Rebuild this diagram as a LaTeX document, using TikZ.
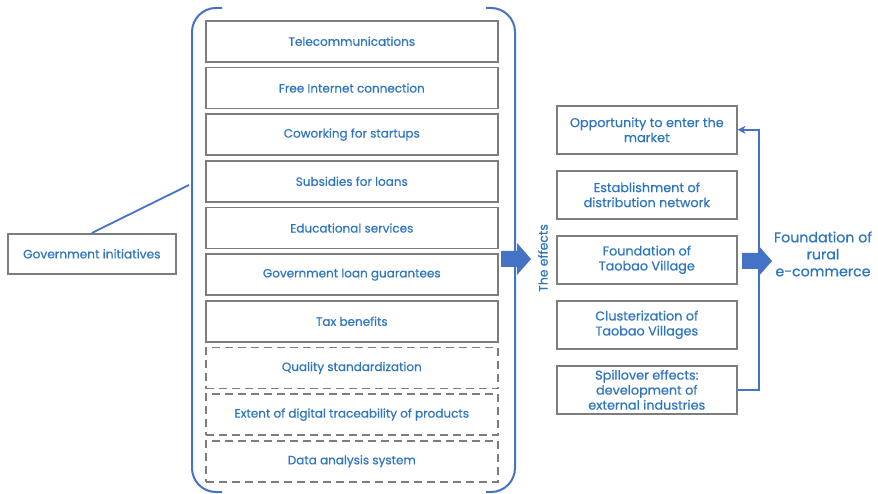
\documentclass[tikz,border=0pt]{standalone}
\usepackage{fontspec}
\setmainfont{Poppins}[FakeBold=0.6]
\usetikzlibrary{arrows.meta}
\definecolor{txtblue}{RGB}{46,117,192}
\definecolor{lineblue}{RGB}{68,114,196}
\definecolor{boxgray}{RGB}{125,125,125}
\begin{document}
\begin{tikzpicture}[x=1pt,y=-1pt,
  item/.style={draw=boxgray, line width=1.6pt, minimum width=292pt, minimum height=41pt,
    anchor=north west, inner sep=0pt, text=txtblue, font=\fontsize{12}{14}\selectfont},
  optitem/.style={item, dashed, dash pattern=on 8pt off 5pt},
  effect/.style={draw=boxgray, line width=1.6pt, minimum width=180pt, minimum height=48pt,
    anchor=north west, inner sep=0pt, text=txtblue, align=center,
    font=\fontsize{12.8}{15}\selectfont},
  bluebar/.style={draw=lineblue, line width=2pt},
  link/.style={draw=lineblue, line width=1.8pt},
  blockarrow/.style={fill=lineblue}]
\useasboundingbox (0,0) rectangle (878,494);

% enclosing brackets around the initiatives
\draw[bluebar, rounded corners=24pt] (222,8) -- (192,8) -- (192,492) -- (222,492);
\draw[bluebar, rounded corners=24pt] (486,8) -- (515,8) -- (515,492) -- (486,492);

% list of initiatives
\node[item] (i1) at (205,20.0) {Telecommunications};
\node[item] (i2) at (205,66.7) {Free Internet connection};
\node[item] (i3) at (205,113.3) {Coworking for startups};
\node[item] (i4) at (205,160.0) {Subsidies for loans};
\node[item] (i5) at (205,206.7) {Educational services};
\node[item] (i6) at (205,253.3) {Government loan guarantees};
\node[item] (i7) at (205,300.0) {Tax benefits};
\node[optitem] (i8) at (205,346.7) {Quality standardization};
\node[optitem] (i9) at (205,393.3) {Extent of digital traceability of products};
\node[optitem] (i10) at (205,440.0) {Data analysis system};

% government initiatives label box
\node[draw=boxgray, line width=1.6pt, minimum width=168pt, minimum height=40pt,
  anchor=north west, inner sep=0pt, text=txtblue, font=\fontsize{12.2}{14}\selectfont]
  (gov) at (7,233) {Government initiatives};
\coordinate (brk) at (189,185);
\draw[link] (gov.north) -- (brk);

% block arrow into the effects
\fill[blockarrow] (501,251) -- (517,251) -- (517,243) -- (531,259) -- (517,275) -- (517,267) -- (501,267) -- cycle;

\node[rotate=90, text=txtblue, font=\fontsize{12.4}{14}\selectfont] (eff) at (543,258) {The effects};

% effects
\node[effect] (e1) at (556,105) {Opportunity to enter the\\market};
\node[effect] (e2) at (556,170) {Establishment of\\distribution network};
\node[effect] (e3) at (556,235) {Foundation of\\Taobao Village};
\node[effect] (e4) at (556,300) {Clusterization of\\Taobao Villages};
\node[effect] (e5) at (556,365) {Spillover effects:\\development of\\external industries};

% feedback from spillover to market entry
\draw[link, -{Stealth[length=8pt,width=8pt]}] (e5.east) -- ++(21,0) |- (e1.east);

% block arrow to the outcome
\fill[blockarrow] (742,253) -- (758,253) -- (758,245) -- (772,261) -- (758,277) -- (758,269) -- (742,269) -- cycle;

\node[text=txtblue, align=center, font=\fontsize{14.2}{17}\selectfont] (out) at (823,254)
  {Foundation of\\rural\\e-commerce};
\end{tikzpicture}
\end{document}
